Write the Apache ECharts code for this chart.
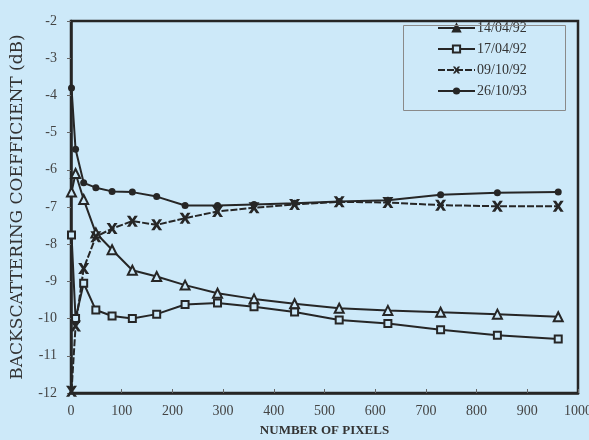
<!DOCTYPE html>
<html>
<head>
<meta charset="utf-8">
<script src="https://cdn.jsdelivr.net/npm/echarts@6/dist/echarts.min.js"></script>
<style>
html,body{margin:0;padding:0;background:#cde9f9;}
#chart{width:589px;height:440px;}
</style>
</head>
<body>
<div id="chart"></div>
<script>
var pixels = [1, 9, 25, 49, 81, 121, 169, 225, 289, 361, 441, 529, 625, 729, 841, 961];
var s140492 = [-6.6, -6.1, -6.8, -7.7, -8.15, -8.7, -8.87, -9.1, -9.32, -9.47, -9.6, -9.72, -9.78, -9.83, -9.88, -9.95];
var s170492 = [-7.75, -10.0, -9.05, -9.77, -9.93, -10.0, -9.88, -9.62, -9.58, -9.68, -9.82, -10.04, -10.13, -10.3, -10.45, -10.55];
var s091092 = [-11.95, -10.2, -8.65, -7.8, -7.58, -7.38, -7.48, -7.3, -7.12, -7.02, -6.93, -6.86, -6.88, -6.95, -6.98, -6.98];
var s261093 = [-3.8, -5.45, -6.35, -6.48, -6.58, -6.6, -6.72, -6.96, -6.96, -6.93, -6.9, -6.85, -6.82, -6.67, -6.62, -6.6];
var seriesNames = ['14/04/92', '17/04/92', '09/10/92', '26/10/93'];
var xTicks = {min: 0, max: 1000, interval: 100};
var yTicks = {min: -12, max: -2, interval: 1};

function pairs(ys) { return pixels.map(function (x, i) { return [x, ys[i]]; }); }

var bg = '#cde9f9';
var ink = '#262626';
var serif = "'Liberation Serif','Times New Roman',serif";
var crossPath = 'path://M0,0 L3,0 L5,3 L7,0 L10,0 L6.6,5 L10,10 L7,10 L5,7 L3,10 L0,10 L3.4,5 Z';

var chart = echarts.init(document.getElementById('chart'), null, {renderer: 'canvas'});
chart.setOption({
  backgroundColor: bg,
  animation: false,
  grid: {left: 71, right: 11, top: 21, bottom: 47, show: true, borderColor: ink, borderWidth: 2.5,
         backgroundColor: 'transparent', containLabel: false, outerBoundsMode: 'none'},
  graphic: [{
    type: 'rect', left: 403, top: 25, shape: {width: 162, height: 85},
    style: {fill: 'transparent', stroke: '#8a8a8a', lineWidth: 1}, z: 100
  }],
  legend: {
    orient: 'vertical', left: 437, top: 21, itemWidth: 37, itemHeight: 9, itemGap: 7,
    padding: 0,
    textStyle: {fontFamily: serif, fontSize: 14, color: '#333', padding: [0, 0, 0, -3]},
    data: [
      {name: seriesNames[0], itemStyle: {color: ink}},
      {name: seriesNames[1]},
      {name: seriesNames[2]},
      {name: seriesNames[3]}
    ]
  },
  xAxis: {
    type: 'value', min: xTicks.min, max: xTicks.max, interval: xTicks.interval,
    name: 'NUMBER OF PIXELS', nameLocation: 'middle', nameGap: 31,
    nameTextStyle: {fontFamily: serif, fontSize: 13, fontWeight: 'bold', color: '#333'},
    axisLine: {show: true, lineStyle: {color: ink, width: 2.5}},
    axisTick: {show: true, inside: true, length: 4, lineStyle: {color: '#666'}},
    axisLabel: {fontFamily: serif, fontSize: 14, color: '#444', margin: 11, formatter: function (v) { return String(v); }},
    splitLine: {show: false}
  },
  yAxis: {
    type: 'value', min: yTicks.min, max: yTicks.max, interval: yTicks.interval,
    name: 'BACKSCATTERING COEFFICIENT (dB)', nameLocation: 'middle', nameGap: 45,
    nameTextStyle: {fontFamily: "'DejaVu Serif',serif", fontSize: 17, color: '#333'},
    axisLine: {show: true, lineStyle: {color: ink, width: 2.5}},
    axisTick: {show: true, inside: false, length: 4, lineStyle: {color: '#666'}},
    axisLabel: {fontFamily: serif, fontSize: 14, color: '#444', margin: 14, formatter: function (v) { return String(v); }},
    splitLine: {show: false}
  },
  series: [
    {name: seriesNames[0], type: 'line', data: pairs(s140492), symbol: 'triangle', symbolSize: 9,
     lineStyle: {color: ink, width: 2}, itemStyle: {color: bg, borderColor: ink, borderWidth: 2}},
    {name: seriesNames[1], type: 'line', data: pairs(s170492), symbol: 'rect', symbolSize: 7,
     lineStyle: {color: ink, width: 2}, itemStyle: {color: bg, borderColor: ink, borderWidth: 2}},
    {name: seriesNames[2], type: 'line', data: pairs(s091092), symbol: crossPath, symbolSize: 11,
     lineStyle: {color: ink, width: 2, type: [7, 2]}, itemStyle: {color: ink}},
    {name: seriesNames[3], type: 'line', data: pairs(s261093), symbol: 'circle', symbolSize: 7,
     lineStyle: {color: ink, width: 2}, itemStyle: {color: ink}}
  ]
});
</script>
</body>
</html>
